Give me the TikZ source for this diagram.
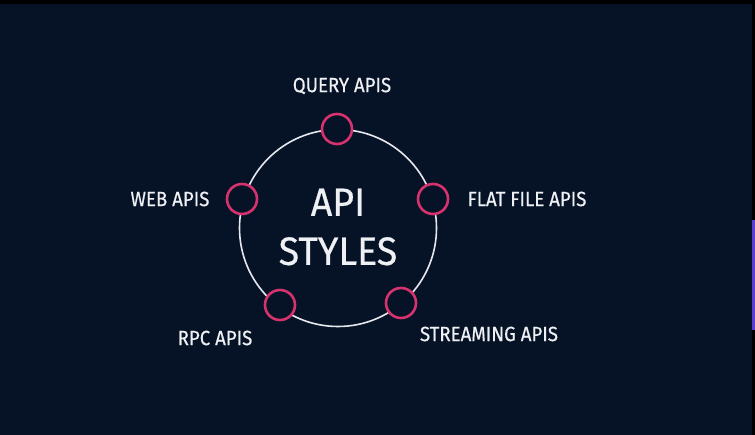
\documentclass[tikz,border=0pt]{standalone}
\usepackage{fontspec}
\setmainfont{Fira Sans}[FakeStretch=0.91,FakeBold=0.5]
\newfontfamily\titlefont{Fira Sans}[FakeStretch=0.95,FakeBold=0.6]
\definecolor{bg}{HTML}{061327}
\definecolor{pinkring}{HTML}{D6326E}
\definecolor{ringwhite}{HTML}{E6E8EE}
\definecolor{txt}{HTML}{EEF0F4}
\definecolor{sidebar}{HTML}{5B3FD0}
\tikzset{
  ring/.style={circle,draw=pinkring,line width=2.6pt,fill=bg,minimum size=30pt,inner sep=0pt},
  lbl/.style={text=txt,font=\fontsize{20.5}{22}\selectfont,inner sep=0pt},
  title/.style={text=txt,font=\titlefont\fontsize{39.5}{49}\selectfont,align=center,inner sep=0pt}
}
\begin{document}
\begin{tikzpicture}[x=1pt,y=-1pt]
\useasboundingbox (0,0) rectangle (755,435);
\fill[bg] (0,0) rectangle (755,435);
\fill[black] (0,0) rectangle (755,4);
\fill[black] (752,0) rectangle (755,435);
\fill[sidebar] (752,220) rectangle (755,330);
\coordinate (c) at (338,228);
\draw[ringwhite,line width=1.6pt] (c) circle[radius=98.5];
\node[ring] (q) at (337,129) {};
\node[ring] (f) at (433,199) {};
\node[ring] (s) at (401,303) {};
\node[ring] (r) at (280,305) {};
\node[ring] (w) at (242,199) {};
\node[title] (t) at (338,227) {API\\STYLES};
\node[lbl] (lq) at (342,86) {QUERY APIS};
\node[lbl] (lf) at (527,199) {FLAT FILE APIS};
\node[lbl] (ls) at (489,334) {STREAMING APIS};
\node[lbl] (lr) at (215,338) {RPC APIS};
\node[lbl] (lw) at (170,199) {WEB APIS};
\end{tikzpicture}
\end{document}
